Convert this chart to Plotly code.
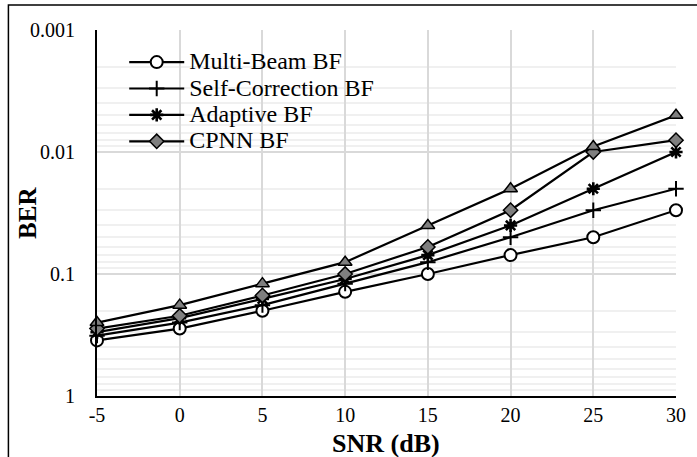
import plotly.graph_objects as go

snr = [-5, 0, 5, 10, 15, 20, 25, 30]
multi_beam = [0.35, 0.28, 0.2, 0.14, 0.1, 0.07, 0.05, 0.03]
self_corr = [0.32, 0.25, 0.18, 0.12, 0.08, 0.05, 0.03, 0.02]
adaptive = [0.30, 0.23, 0.16, 0.11, 0.07, 0.04, 0.02, 0.01]
cpnn = [0.28, 0.22, 0.15, 0.10, 0.06, 0.03, 0.01, 0.008]
proposed = [0.25, 0.18, 0.12, 0.08, 0.04, 0.02, 0.009, 0.005]

y_ticks = [1, 0.1, 0.01, 0.001]
y_tick_text = ["1", "0.1", "0.01", "0.001"]
x_ticks = [-5, 0, 5, 10, 15, 20, 25, 30]
x_tick_text = ["-5", "0", "5", "10", "15", "20", "25", "30"]
minor_y = [m * 10.0 ** e for e in (-3, -2, -1) for m in range(2, 10)]

FONT = "Liberation Serif, Times New Roman, serif"
fig = go.Figure()

series = [
    ("Multi-Beam BF", multi_beam, dict(symbol="circle", size=12, color="white", line=dict(color="black", width=2)), True),
    ("Self-Correction BF", self_corr, dict(symbol="cross-thin", size=11, color="black", line=dict(color="black", width=2)), True),
    ("Adaptive BF", adaptive, dict(symbol="asterisk", size=11, color="black", line=dict(color="black", width=2.6)), True),
    ("CPNN BF", cpnn, dict(symbol="diamond", size=11, color="#7f7f7f", line=dict(color="black", width=1.5)), True),
    ("Proposed", proposed, dict(symbol="triangle-up", size=12, color="#7f7f7f", line=dict(color="black", width=1.5)), False),
]
for name, vals, marker, show in series:
    fig.add_trace(go.Scatter(
        x=snr, y=vals,
        name="<span style=\"font-family:'Liberation Serif',serif;font-size:24px\">" + name + "</span>",
        mode="lines+markers", cliponaxis=False,
        line=dict(color="black", width=2.2), marker=marker, showlegend=show,
    ))

fig.update_layout(
    width=697, height=457,
    margin=dict(l=97, r=21, t=30, b=61),
    paper_bgcolor="white", plot_bgcolor="white",
    font=dict(family=FONT, color="black", size=20),
    legend=dict(x=0.047, y=0.962, xanchor="left", yanchor="top",
                font=dict(family=FONT, size=18), bgcolor="rgba(0,0,0,0)",
                itemwidth=55, tracegroupgap=0),
    shapes=[dict(type="rect", xref="paper", yref="paper",
                 x0=-0.153, x1=1.06, y0=-0.25, y1=1.068,
                 line=dict(color="black", width=1.5))],
    annotations=[
        dict(text="<b>BER</b>", xref="paper", yref="paper",
             x=-0.121, y=0.5, xanchor="center", yanchor="middle",
             textangle=-90, showarrow=False, font=dict(family=FONT, size=25)),
        dict(text="<b>SNR (dB)</b>", xref="paper", yref="paper",
             x=0.499, y=-0.13, xanchor="center", yanchor="middle",
             showarrow=False, font=dict(family=FONT, size=26)),
    ],
)
fig.update_xaxes(
    range=[-5, 30], tickvals=x_ticks, ticktext=x_tick_text, automargin=False,
    showgrid=True, gridcolor="#d9d9d9", gridwidth=1.5,
    showline=True, linecolor="black", linewidth=2, zeroline=False, ticks="",
    tickfont=dict(size=20),
)
fig.update_yaxes(
    type="log", range=[0, -3], tickvals=y_ticks, ticktext=y_tick_text, automargin=False,
    showgrid=True, gridcolor="#d9d9d9", gridwidth=1.5,
    minor=dict(tickvals=minor_y, showgrid=True, gridcolor="#f0f0f0", gridwidth=1.5, ticks=""),
    showline=True, linecolor="black", linewidth=2, zeroline=False, ticks="",
    ticklabelstandoff=16,
    tickfont=dict(size=20),
)
fig.write_html("out.html")
